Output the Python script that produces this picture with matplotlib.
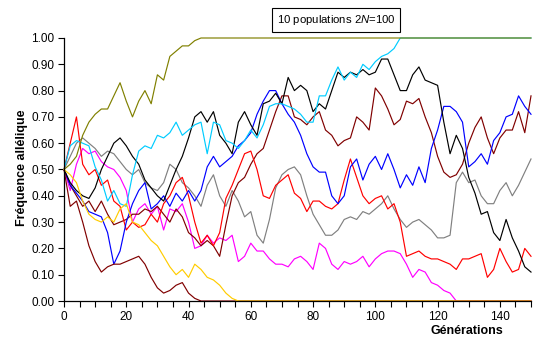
import matplotlib
matplotlib.use('Agg')
import matplotlib.pyplot as plt
from matplotlib.ticker import MultipleLocator, FormatStrFormatter

plt.rcParams['font.family'] = ['Liberation Sans', 'DejaVu Sans']
plt.rcParams['mathtext.fontset'] = 'custom'
plt.rcParams['mathtext.rm'] = 'Liberation Sans'
plt.rcParams['mathtext.it'] = 'Liberation Sans:italic'

# --- données (une valeur toutes les 2 générations) ---
generations = list(range(0, 151, 2))

olive = [0.50, 0.52, 0.55, 0.63, 0.68, 0.71, 0.73, 0.73, 0.78, 0.83,
         0.76, 0.70, 0.76, 0.80, 0.75, 0.86, 0.84, 0.93, 0.95, 0.97,
         0.97, 0.99, 1.00, 1.00, 1.00, 1.00, 1.00, 1.00, 1.00, 1.00,
         1.00, 1.00, 1.00, 1.00, 1.00, 1.00, 1.00, 1.00, 1.00, 1.00,
         1.00, 1.00, 1.00, 1.00, 1.00, 1.00, 1.00, 1.00, 1.00, 1.00,
         1.00, 1.00, 1.00, 1.00, 1.00, 1.00, 1.00, 1.00, 1.00, 1.00,
         1.00, 1.00, 1.00, 1.00, 1.00, 1.00, 1.00, 1.00, 1.00, 1.00,
         1.00, 1.00, 1.00, 1.00, 1.00, 1.00]

cyan = [0.50, 0.59, 0.61, 0.60, 0.59, 0.51, 0.46, 0.38, 0.42, 0.37,
        0.36, 0.48, 0.57, 0.59, 0.58, 0.63, 0.62, 0.64, 0.68, 0.63,
        0.65, 0.67, 0.68, 0.56, 0.68, 0.67, 0.61, 0.60, 0.58, 0.61,
        0.65, 0.62, 0.67, 0.74, 0.75, 0.75, 0.74, 0.73, 0.71, 0.68,
        0.68, 0.78, 0.78, 0.84, 0.89, 0.84, 0.87, 0.85, 0.90, 0.88,
        0.91, 0.93, 0.94, 0.96, 1.00, 1.00, 1.00, 1.00, 1.00, 1.00,
        1.00, 1.00, 1.00, 1.00, 1.00, 1.00, 1.00, 1.00, 1.00, 1.00,
        1.00, 1.00, 1.00, 1.00, 1.00, 1.00]

black = [0.50, 0.45, 0.42, 0.40, 0.39, 0.43, 0.50, 0.55, 0.60, 0.62,
         0.59, 0.55, 0.52, 0.46, 0.43, 0.40, 0.38, 0.44, 0.50, 0.55,
         0.62, 0.70, 0.72, 0.68, 0.72, 0.63, 0.60, 0.56, 0.68, 0.72,
         0.67, 0.63, 0.75, 0.76, 0.79, 0.75, 0.85, 0.80, 0.82, 0.80,
         0.72, 0.75, 0.73, 0.80, 0.87, 0.85, 0.87, 0.86, 0.88, 0.86,
         0.87, 0.92, 0.92, 0.86, 0.80, 0.80, 0.86, 0.89, 0.84, 0.83,
         0.82, 0.68, 0.56, 0.63, 0.58, 0.47, 0.41, 0.33, 0.34, 0.26,
         0.23, 0.31, 0.24, 0.19, 0.13, 0.11]

maroon_a = [0.50, 0.36, 0.38, 0.30, 0.21, 0.15, 0.11, 0.13, 0.14, 0.14,
            0.15, 0.16, 0.17, 0.14, 0.09, 0.05, 0.03, 0.04, 0.06, 0.07,
            0.03, 0.01, 0.00, 0.00, 0.00, 0.00, 0.00, 0.00, 0.00, 0.00,
            0.00, 0.00, 0.00, 0.00, 0.00, 0.00, 0.00, 0.00, 0.00, 0.00,
            0.00, 0.00, 0.00, 0.00, 0.00, 0.00, 0.00, 0.00, 0.00, 0.00,
            0.00, 0.00, 0.00, 0.00, 0.00, 0.00, 0.00, 0.00, 0.00, 0.00,
            0.00, 0.00, 0.00, 0.00, 0.00, 0.00, 0.00, 0.00, 0.00, 0.00,
            0.00, 0.00, 0.00, 0.00, 0.00, 0.00]

maroon_b = [0.50, 0.44, 0.40, 0.36, 0.38, 0.34, 0.38, 0.33, 0.29, 0.30,
            0.31, 0.33, 0.33, 0.35, 0.34, 0.36, 0.33, 0.30, 0.35, 0.32,
            0.26, 0.24, 0.21, 0.23, 0.21, 0.17, 0.29, 0.40, 0.45, 0.47,
            0.52, 0.56, 0.58, 0.65, 0.72, 0.78, 0.78, 0.70, 0.69, 0.67,
            0.70, 0.72, 0.65, 0.63, 0.59, 0.61, 0.62, 0.70, 0.68, 0.65,
            0.81, 0.78, 0.73, 0.67, 0.69, 0.76, 0.75, 0.77, 0.70, 0.64,
            0.55, 0.49, 0.47, 0.48, 0.52, 0.60, 0.66, 0.70, 0.62, 0.56,
            0.62, 0.65, 0.65, 0.72, 0.64, 0.78]

red = [0.50, 0.60, 0.70, 0.52, 0.48, 0.50, 0.44, 0.46, 0.38, 0.36,
       0.27, 0.30, 0.28, 0.29, 0.33, 0.30, 0.37, 0.40, 0.45, 0.47,
       0.40, 0.30, 0.22, 0.25, 0.21, 0.26, 0.39, 0.44, 0.50, 0.56,
       0.57, 0.50, 0.40, 0.39, 0.44, 0.46, 0.48, 0.41, 0.39, 0.34,
       0.38, 0.38, 0.36, 0.35, 0.37, 0.46, 0.54, 0.47, 0.40, 0.37,
       0.39, 0.40, 0.35, 0.37, 0.30, 0.17, 0.18, 0.19, 0.17, 0.16,
       0.16, 0.15, 0.14, 0.12, 0.16, 0.16, 0.17, 0.18, 0.09, 0.12,
       0.20, 0.15, 0.11, 0.12, 0.20, 0.17]

blue = [0.50, 0.44, 0.41, 0.38, 0.34, 0.33, 0.32, 0.26, 0.14, 0.19,
        0.30, 0.37, 0.42, 0.45, 0.35, 0.37, 0.40, 0.36, 0.41, 0.38,
        0.42, 0.38, 0.42, 0.51, 0.55, 0.51, 0.53, 0.55, 0.59, 0.61,
        0.64, 0.71, 0.76, 0.80, 0.80, 0.75, 0.71, 0.68, 0.63, 0.56,
        0.51, 0.49, 0.49, 0.40, 0.37, 0.40, 0.51, 0.54, 0.46, 0.52,
        0.55, 0.50, 0.56, 0.50, 0.43, 0.48, 0.44, 0.51, 0.45, 0.58,
        0.65, 0.74, 0.74, 0.72, 0.68, 0.51, 0.53, 0.56, 0.52, 0.61,
        0.64, 0.70, 0.71, 0.78, 0.74, 0.71]

gray = [0.50, 0.55, 0.60, 0.62, 0.60, 0.58, 0.55, 0.57, 0.56, 0.53,
        0.50, 0.48, 0.50, 0.45, 0.43, 0.42, 0.45, 0.52, 0.50, 0.45,
        0.43, 0.40, 0.36, 0.44, 0.48, 0.40, 0.36, 0.42, 0.38, 0.32,
        0.34, 0.25, 0.22, 0.31, 0.43, 0.48, 0.50, 0.51, 0.48, 0.40,
        0.33, 0.29, 0.25, 0.25, 0.27, 0.31, 0.32, 0.31, 0.34, 0.33,
        0.35, 0.37, 0.40, 0.35, 0.31, 0.28, 0.30, 0.31, 0.29, 0.27,
        0.24, 0.24, 0.25, 0.45, 0.49, 0.45, 0.46, 0.40, 0.37, 0.37,
        0.42, 0.45, 0.40, 0.44, 0.49, 0.54]

magenta = [0.50, 0.42, 0.52, 0.58, 0.56, 0.57, 0.53, 0.51, 0.50, 0.47,
           0.42, 0.30, 0.35, 0.37, 0.33, 0.36, 0.27, 0.35, 0.34, 0.37,
           0.30, 0.20, 0.21, 0.25, 0.22, 0.24, 0.23, 0.25, 0.15, 0.17,
           0.22, 0.19, 0.19, 0.16, 0.14, 0.14, 0.13, 0.16, 0.17, 0.15,
           0.12, 0.22, 0.20, 0.14, 0.12, 0.15, 0.14, 0.15, 0.17, 0.13,
           0.16, 0.18, 0.19, 0.19, 0.18, 0.14, 0.09, 0.12, 0.11, 0.07,
           0.06, 0.04, 0.03, 0.00, 0.00, 0.00, 0.00, 0.00, 0.00, 0.00,
           0.00, 0.00, 0.00, 0.00, 0.00, 0.00]

yellow = [0.50, 0.48, 0.45, 0.38, 0.33, 0.31, 0.30, 0.32, 0.30, 0.35,
          0.37, 0.30, 0.29, 0.26, 0.23, 0.21, 0.17, 0.13, 0.10, 0.12,
          0.09, 0.14, 0.12, 0.09, 0.08, 0.06, 0.03, 0.01, 0.00, 0.00,
          0.00, 0.00, 0.00, 0.00, 0.00, 0.00, 0.00, 0.00, 0.00, 0.00,
          0.00, 0.00, 0.00, 0.00, 0.00, 0.00, 0.00, 0.00, 0.00, 0.00,
          0.00, 0.00, 0.00, 0.00, 0.00, 0.00, 0.00, 0.00, 0.00, 0.00,
          0.00, 0.00, 0.00, 0.00, 0.00, 0.00, 0.00, 0.00, 0.00, 0.00,
          0.00, 0.00, 0.00, 0.00, 0.00, 0.00]

# ordre de tracé : les dernières courbes passent au-dessus
courbes = [
    (gray, '#808080'),
    (magenta, '#FF00FF'),
    (maroon_b, '#800000'),
    (red, '#FF0000'),
    (blue, '#0000FF'),
    (black, '#000000'),
    (cyan, '#00CCFF'),
    (olive, '#808000'),
    (maroon_a, '#800000'),
    (yellow, '#FFCC00'),
]

W, H = 548, 353
fig = plt.figure(figsize=(W / 100, H / 100), dpi=100)
ax = fig.add_axes([64 / W, 1 - 301 / H, (531 - 64) / W, (301 - 38) / H])

for vals, color in courbes:
    ax.plot(generations, vals, color=color, lw=0.85, clip_on=False)

ax.set_xlim(0, 150)
ax.set_ylim(0, 1)
ax.spines['top'].set_visible(False)
ax.spines['right'].set_visible(False)
ax.spines['left'].set_linewidth(0.9)
ax.spines['bottom'].set_linewidth(0.9)

ax.xaxis.set_major_locator(MultipleLocator(20))
ax.xaxis.set_minor_locator(MultipleLocator(5))
ax.yaxis.set_major_locator(MultipleLocator(0.1))
ax.yaxis.set_major_formatter(FormatStrFormatter('%.2f'))
ax.tick_params(which='both', direction='out', length=4, width=0.8,
               labelsize=8.5, pad=3)

# titre encadré
fig.text(336 / W, 1 - 20 / H, '10 populations 2$\\mathit{N}$=100',
         ha='center', va='center', fontsize=8.2,
         bbox=dict(boxstyle='square,pad=0.4', fc='white', ec='black', lw=0.8))

fig.text(22 / W, 1 - 168 / H, 'Fréquence allélique', rotation=90,
         ha='center', va='center', fontsize=9, fontweight='bold')
fig.text(467 / W, 1 - 331 / H, 'Générations',
         ha='center', va='center', fontsize=9, fontweight='bold')

fig.savefig('out.png', dpi=100)
